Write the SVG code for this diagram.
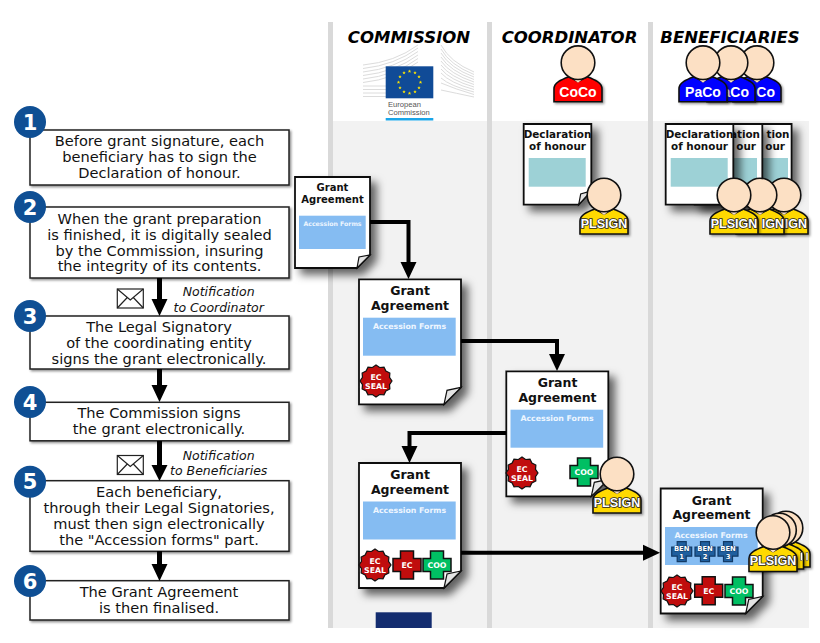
<svg xmlns="http://www.w3.org/2000/svg" width="820" height="643" viewBox="0 0 820 643">
<style>
text{font-family:"DejaVu Sans",Verdana,sans-serif;text-anchor:middle}
.step{fill:#fff;stroke:#222;stroke-width:1.5;filter:url(#s1)}
.st{font-size:14.6px;fill:#111}
.num{fill:#0f4f94}
.nt{font-size:21px;font-weight:700;fill:#fff}
.note{font-size:12.5px;font-style:italic;fill:#111}
.hd{font-size:16.5px;font-weight:700;font-style:italic;fill:#000}
.doc{fill:#fff;stroke:#111;stroke-width:1.8;filter:url(#s2)}
.fold{fill:#e4e4e4;stroke:#111;stroke-width:1.2}
.dt{font-size:12.5px;font-weight:700;fill:#111}
.dts{font-size:10px;font-weight:700;fill:#111}
.dd{font-size:10.4px;font-weight:700;fill:#111}
.ddr{font-size:10.4px;font-weight:700;fill:#111;text-anchor:end}
.af{font-size:7.8px;font-weight:700;fill:#eef6ff}
.afs{font-size:6.2px;font-weight:700;fill:#eef6ff}
.bl{fill:#85bcf2}
.te{fill:#9dd1d6}
.pl{font-family:"Liberation Sans",Arial,sans-serif;font-size:12.5px;font-weight:700;fill:#fff;stroke:#222;stroke-width:1.6;paint-order:stroke}
.plr{font-family:"Liberation Sans",Arial,sans-serif;font-size:12.5px;font-weight:700;fill:#fff;stroke:#222;stroke-width:1.6;paint-order:stroke;text-anchor:end}
.co{font-family:"Liberation Sans",Arial,sans-serif;font-size:14px;font-weight:700;fill:#fff}
.cor{font-family:"Liberation Sans",Arial,sans-serif;font-size:14px;font-weight:700;fill:#fff;text-anchor:end}
.sm{font-size:7.8px;font-weight:700;fill:#fff}
.ben{font-size:6.8px;font-weight:700;fill:#fff;stroke:#123a66;stroke-width:.8;paint-order:stroke}
.ln{fill:none;stroke:#000;stroke-width:4}
.ln5{fill:none;stroke:#000;stroke-width:5}
.ah{fill:#000}
.wing{fill:none;stroke:#dcdcdc;stroke-width:1}
.env{fill:#fff;stroke:#222;stroke-width:1.2}
.envl{fill:none;stroke:#222;stroke-width:1.2}
.lg{font-family:"Liberation Sans",Arial,sans-serif;font-size:7.6px;fill:#555;text-anchor:start}
</style>
<defs>
<filter id="s1" x="-10%" y="-20%" width="120%" height="150%"><feDropShadow dx="1.5" dy="1.5" stdDeviation="1.2" flood-color="#000" flood-opacity=".45"/></filter>
<filter id="s2" x="-20%" y="-20%" width="150%" height="150%"><feDropShadow dx="6" dy="6" stdDeviation="4" flood-color="#000" flood-opacity=".6"/></filter>
<filter id="s3" x="-20%" y="-20%" width="150%" height="150%"><feDropShadow dx="1.5" dy="1.5" stdDeviation="1" flood-color="#000" flood-opacity=".4"/></filter>
<g id="p">
<path filter="url(#s3)" d="M-24,39V26C-24,20-17,17-9,14L0,19L9,14C17,17 24,20 24,26V39Z" stroke="#111" stroke-width="1.6"/>
<path d="M-6,15L0,20L6,15Z" fill="#fce0c4"/>
<circle r="16.8" fill="#fce0c4" stroke="#111" stroke-width="1.6"/>
</g>
<path id="docL" d="M0,0H102V108L85,125H0Z"/>
<path id="foldL" d="M85,125L88,111L102,108Z"/>
<path id="docD" d="M0,0H67.6V67L55,80.7H0Z"/>
<path id="foldD" d="M55,80.7L57,70L67.6,67Z"/>
<polygon id="seal" points="16,0 13.52,3.62 13.86,8 9.9,9.9 8,13.86 3.62,13.52 0,16 -3.62,13.52 -8,13.86 -9.9,9.9 -13.86,8 -13.52,3.62 -16,0 -13.52,-3.62 -13.86,-8 -9.9,-9.9 -8,-13.86 -3.62,-13.52 0,-16 3.62,-13.52 8,-13.86 9.9,-9.9 13.86,-8 13.52,-3.62" fill="#c00d0d" stroke="#111" stroke-width="1.2"/>
<path id="cross" d="M-6.5,-14H6.5V-6.5H14V6.5H6.5V14H-6.5V6.5H-14V-6.5H-6.5Z" stroke="#111" stroke-width="1.5"/>
<path id="crossS" d="M-4.5,-10H4.5V-4.5H10V4.5H4.5V10H-4.5V4.5H-10V-4.5H-4.5Z" fill="#1f5f9f" stroke="#123a66" stroke-width="1.2"/>
<polygon id="star" points="0,-1.8 .5,-.6 1.7,-.6 .8,.2 1.1,1.5 0,.8 -1.1,1.5 -.8,.2 -1.7,-.6 -.5,-.6" fill="#ffe600"/>
<g id="envl"><rect width="26" height="19" class="env"/><path d="M0,0L13,11L26,0M0,19L10,8.500M26,19L16,8.500" class="envl"/></g>
</defs>
<rect width="820" height="643" fill="#fff"/>

<g id="lanes">
<rect x="328" y="121" width="481" height="507" fill="#f2f2f2"/>
<rect x="328" y="22" width="5" height="606" fill="#d9d9d9"/>
<rect x="487" y="22" width="5" height="606" fill="#d9d9d9"/>
<rect x="648" y="22" width="5" height="606" fill="#d9d9d9"/>
<text class="hd" x="409" y="43">COMMISSION</text>
<text class="hd" x="569.500" y="43">COORDINATOR</text>
<text class="hd" x="730" y="43">BENEFICIARIES</text>
<rect x="375.700" y="612.300" width="56" height="15.700" fill="#132c6f"/>
</g>

<g id="ec-logo">
<path class="wing" d="M363,65Q395,62 418,45M363,68.500Q395,65 418,48M363,72Q395,68.500 418,51.500M363,75.500Q395,72 418,55M363,79Q395,75.500 418,58.500M363,82.500Q395,79 418,62M363,86H386M363,89.500H386M363,93H386M363,96.500H386"/>
<path class="wing" d="M441,45Q450,62 474,72M441,49Q450,65 474,74.500M441,53Q450,68 474,77M441,57Q450,71 474,79.500M441,61Q450,74 474,82M441,65Q450,77 474,84.500M441,69Q450,80 474,87M441,73Q450,83 474,89.500M441,78Q450,86 474,92M441,83Q455,89 474,94.500M441,90Q455,93 474,97"/>
<rect x="385.700" y="66.300" width="47.600" height="32" fill="#104b97"/>
<use href="#star" x="409.500" y="71.300"/><use href="#star" x="415" y="72.800"/><use href="#star" x="419" y="76.800"/><use href="#star" x="420.500" y="82.300"/><use href="#star" x="419" y="87.800"/><use href="#star" x="415" y="91.800"/><use href="#star" x="409.500" y="93.300"/><use href="#star" x="404" y="91.800"/><use href="#star" x="400" y="87.800"/><use href="#star" x="398.500" y="82.300"/><use href="#star" x="400" y="76.800"/><use href="#star" x="404" y="72.800"/>
<text class="lg" x="388" y="107">European</text>
<text class="lg" x="388" y="115">Commission</text>
<rect x="385.700" y="118" width="47.600" height="2.500" fill="#1aa5e8"/>
</g>

<g id="step-1"><rect class="step" x="30" y="130" width="259" height="55"/><circle class="num" cx="30" cy="122" r="16"/><text class="nt" x="30" y="129.500">1</text>
<text class="st" x="159.500" y="146">Before grant signature, each</text><text class="st" x="159.500" y="162">beneficiary has to sign the</text><text class="st" x="159.500" y="178">Declaration of honour.</text></g>
<g id="step-2"><rect class="step" x="30" y="207" width="259" height="71"/><circle class="num" cx="30" cy="207" r="16"/><text class="nt" x="30" y="214.500">2</text>
<text class="st" x="159.500" y="224">When the grant preparation</text><text class="st" x="159.500" y="240">is finished, it is digitally sealed</text><text class="st" x="159.500" y="255.500">by the Commission, insuring</text><text class="st" x="159.500" y="271">the integrity of its contents.</text></g>
<g id="step-3"><rect class="step" x="30" y="316" width="259" height="53"/><circle class="num" cx="30" cy="316" r="16"/><text class="nt" x="30" y="323.500">3</text>
<text class="st" x="159" y="332">The Legal Signatory</text><text class="st" x="159" y="348">of the coordinating entity</text><text class="st" x="159" y="363.500">signs the grant electronically.</text></g>
<g id="step-4"><rect class="step" x="30" y="402.300" width="259" height="38.500"/><circle class="num" cx="30" cy="402" r="16"/><text class="nt" x="30" y="409.500">4</text>
<text class="st" x="159" y="418">The Commission signs</text><text class="st" x="159" y="434">the grant electronically.</text></g>
<g id="step-5"><rect class="step" x="30" y="480.700" width="259" height="70.600"/><circle class="num" cx="30" cy="481.700" r="16"/><text class="nt" x="30" y="489">5</text>
<text class="st" x="159" y="497">Each beneficiary,</text><text class="st" x="159" y="513">through their Legal Signatories,</text><text class="st" x="159" y="529">must then sign electronically</text><text class="st" x="159" y="544.500">the "Accession forms" part.</text></g>
<g id="step-6"><rect class="step" x="30" y="580.700" width="259" height="39.300"/><circle class="num" cx="30" cy="581" r="16"/><text class="nt" x="30" y="588.500">6</text>
<text class="st" x="159" y="597">The Grant Agreement</text><text class="st" x="159" y="613">is then finalised.</text></g>

<g id="note-coordinator"><use href="#envl" x="117.300" y="289"/><text class="note" x="218.700" y="296">Notification</text><text class="note" x="218.700" y="311.500">to Coordinator</text></g>
<g id="note-beneficiaries"><use href="#envl" x="117.300" y="455.500"/><text class="note" x="218.700" y="460">Notification</text><text class="note" x="218.700" y="475">to Beneficiaries</text></g>

<g id="doc-grant-draft">
<path class="doc" d="M295,177H370V255L357,268H295Z"/><path class="fold" d="M357,268L359,257L370,255Z"/>
<text class="dts" x="332.500" y="191">Grant</text><text class="dts" x="332.500" y="202.500">Agreement</text>
<rect class="bl" x="299" y="215.700" width="66.700" height="33.300"/><text class="afs" x="332.500" y="226">Accession Forms</text>
</g>
<g id="doc-grant-sealed">
<use href="#docL" class="doc" x="359" y="279.300"/><use href="#foldL" class="fold" x="359" y="279.300"/>
<text class="dt" x="410" y="295">Grant</text><text class="dt" x="410" y="310">Agreement</text>
<rect class="bl" x="363" y="317.700" width="92.700" height="38"/><text class="af" x="409.500" y="329">Accession Forms</text>
<use href="#seal" x="376" y="381"/><text class="sm" x="376" y="380">EC</text><text class="sm" x="376" y="388.500">SEAL</text>
</g>
<g id="doc-grant-coordinator">
<use href="#docL" class="doc" x="506.300" y="371.300"/><use href="#foldL" class="fold" x="506.300" y="371.300"/>
<text class="dt" x="557.500" y="387">Grant</text><text class="dt" x="557.500" y="402">Agreement</text>
<rect class="bl" x="510.500" y="409.700" width="92.700" height="38"/><text class="af" x="557" y="421">Accession Forms</text>
<use href="#seal" x="522" y="473"/><text class="sm" x="522" y="472">EC</text><text class="sm" x="522" y="480.500">SEAL</text>
<use href="#cross" x="584" y="472" fill="#00bf63"/><text class="sm" x="584" y="475">COO</text>
<use href="#p" x="617" y="474" fill="#ffd900"/><text class="pl" x="617" y="507">PLSIGN</text>
</g>
<g id="doc-grant-commission">
<use href="#docL" class="doc" x="359" y="463"/><use href="#foldL" class="fold" x="359" y="463"/>
<text class="dt" x="410" y="479">Grant</text><text class="dt" x="410" y="494">Agreement</text>
<rect class="bl" x="363" y="501.500" width="92.700" height="38"/><text class="af" x="409.500" y="513">Accession Forms</text>
<use href="#seal" x="375" y="565"/><text class="sm" x="375" y="564">EC</text><text class="sm" x="375" y="572.500">SEAL</text>
<use href="#cross" x="407" y="565" fill="#c00d0d"/><text class="sm" x="407" y="568">EC</text>
<use href="#cross" x="437" y="565" fill="#00bf63"/><text class="sm" x="437" y="568">COO</text>
</g>
<g id="doc-grant-final">
<use href="#docL" class="doc" x="660.700" y="488.500"/><use href="#foldL" class="fold" x="660.700" y="488.500"/>
<text class="dt" x="711.500" y="504.500">Grant</text><text class="dt" x="711.500" y="519">Agreement</text>
<rect class="bl" x="665" y="527" width="92.700" height="38"/><text class="af" x="711" y="537.500">Accession Forms</text>
<use href="#crossS" x="681.700" y="551.700"/><text class="ben" x="681.700" y="550.500">BEN</text><text class="ben" x="681.700" y="559">1</text>
<use href="#crossS" x="705" y="551.700"/><text class="ben" x="705" y="550.500">BEN</text><text class="ben" x="705" y="559">2</text>
<use href="#crossS" x="728" y="551.700"/><text class="ben" x="728" y="550.500">BEN</text><text class="ben" x="728" y="559">3</text>
<use href="#seal" x="677" y="591"/><text class="sm" x="677" y="590">EC</text><text class="sm" x="677" y="598.500">SEAL</text>
<use href="#cross" x="708.700" y="590.700" fill="#c00d0d"/><text class="sm" x="708.700" y="593.700">EC</text>
<use href="#cross" x="739" y="591" fill="#00bf63"/><text class="sm" x="739" y="594">COO</text>
<use href="#p" x="786" y="528" fill="#ffd900"/><use href="#p" x="779.500" y="530" fill="#ffd900"/>
<rect x="800.500" y="552.500" width="2" height="8" fill="#fff" stroke="#333" stroke-width=".5"/><rect x="806" y="552.500" width="2" height="8" fill="#fff" stroke="#333" stroke-width=".5"/>
<use href="#p" x="773" y="532.500" fill="#ffd900"/><text class="pl" x="773" y="565">PLSIGN</text>
</g>

<g id="coco"><use href="#p" x="578" y="62.700" fill="#f00"/><text class="co" x="578" y="97">CoCo</text></g>
<g id="paco-3"><use href="#p" x="757" y="62.700" fill="#00f"/><text class="cor" x="775" y="97">Co</text></g>
<g id="paco-2"><use href="#p" x="731" y="62.700" fill="#00f"/><text class="cor" x="749" y="97">aCo</text></g>
<g id="paco-1"><use href="#p" x="703" y="62.700" fill="#00f"/><text class="co" x="703" y="97">PaCo</text></g>

<g id="decl-coordinator">
<use href="#docD" class="doc" x="523.700" y="124"/><use href="#foldD" class="fold" x="523.700" y="124"/>
<text class="dd" x="557.500" y="138">Declaration</text><text class="dd" x="557.500" y="150">of honour</text>
<rect class="te" x="528.700" y="158" width="57" height="28.700"/>
<use href="#p" x="604" y="195" fill="#ffd900"/><text class="pl" x="604" y="228">PLSIGN</text>
</g>
<g id="decl-ben-3">
<use href="#docD" class="doc" x="724" y="124"/>
<text class="ddr" x="789.500" y="138">tion</text><text class="ddr" x="785" y="150">our</text>
<rect class="te" x="729" y="158" width="59" height="28.700"/>
</g>
<g id="decl-ben-2">
<use href="#docD" class="doc" x="694.700" y="124"/>
<text class="ddr" x="760" y="138">ation</text><text class="ddr" x="756" y="150">our</text>
<rect class="te" x="700" y="158" width="57" height="28.700"/>
</g>
<g id="decl-ben-1">
<use href="#docD" class="doc" x="665.700" y="124"/>
<text class="dd" x="699.500" y="138">Declaration</text><text class="dd" x="699.500" y="150">of honour</text>
<rect class="te" x="670.700" y="158" width="57" height="28.700"/>
</g>
<g id="plsign-3"><use href="#p" x="784" y="195" fill="#ffd900"/><text class="plr" x="807" y="228">IGN</text></g>
<g id="plsign-2"><use href="#p" x="760" y="195" fill="#ffd900"/><text class="plr" x="784" y="228">IGN</text></g>
<g id="plsign-1"><use href="#p" x="734" y="195" fill="#ffd900"/><text class="pl" x="734" y="228">PLSIGN</text></g>

<g id="connectors">
<path d="M159.500,278V300" class="ln5"/><polygon class="ah" points="151.500,299 167.500,299 159.500,316"/>
<path d="M159.500,369V386" class="ln5"/><polygon class="ah" points="151.500,385 167.500,385 159.500,402"/>
<path d="M159.500,441V466" class="ln5"/><polygon class="ah" points="151.500,465 167.500,465 159.500,481"/>
<path d="M159.500,551V565" class="ln5"/><polygon class="ah" points="151.500,564 167.500,564 159.500,581"/>
<path class="ln" d="M370,222H408.500V264"/><polygon class="ah" points="400.500,262 416.500,262 408.500,279"/>
<path class="ln" d="M461,341H557V356"/><polygon class="ah" points="549,354 565,354 557,371"/>
<path class="ln" d="M506,433H409.500V448"/><polygon class="ah" points="401.500,446 417.500,446 409.500,463"/>
<path class="ln" d="M461,552.700H645"/><polygon class="ah" points="643,544.700 643,560.700 660,552.700"/>
</g>
</svg>
